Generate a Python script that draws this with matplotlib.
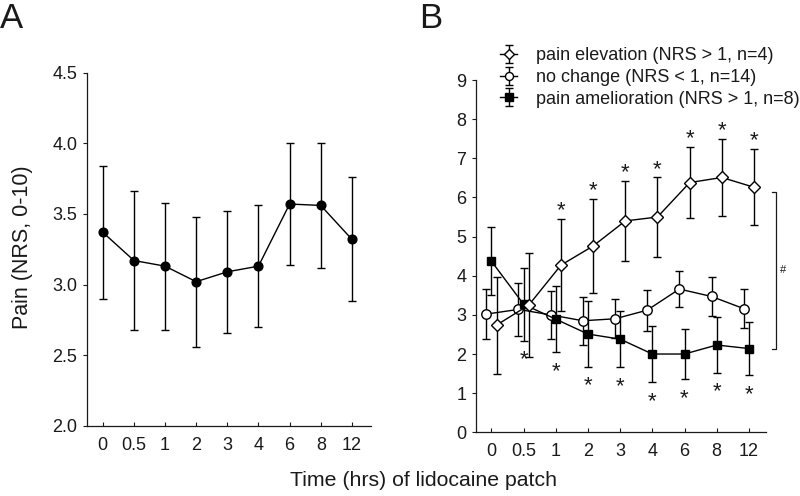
import numpy as np
import matplotlib.pyplot as plt

plt.rcParams['font.family'] = ['Liberation Sans', 'DejaVu Sans']

times = ['0', '0.5', '1', '2', '3', '4', '6', '8', '12']

# panel A: all patients
all_mean = [3.37, 3.17, 3.13, 3.02, 3.09, 3.13, 3.57, 3.56, 3.32]
all_err = [0.47, 0.49, 0.45, 0.46, 0.43, 0.43, 0.43, 0.445, 0.44]

# panel B: subgroups
elev_mean = [2.74, 3.25, 4.27, 4.76, 5.40, 5.50, 6.38, 6.51, 6.26]
elev_err = [1.24, 1.33, 1.17, 1.19, 1.03, 1.01, 0.90, 0.98, 0.97]
none_mean = [3.02, 3.14, 3.00, 2.85, 2.90, 3.12, 3.66, 3.47, 3.16]
none_err = [0.64, 0.67, 0.61, 0.61, 0.50, 0.52, 0.46, 0.51, 0.50]
amel_mean = [4.37, 3.27, 2.89, 2.51, 2.38, 2.00, 2.00, 2.23, 2.14]
amel_err = [0.87, 0.93, 0.85, 0.84, 0.72, 0.72, 0.64, 0.71, 0.68]

# significance marks (index into times)
elev_star = [2, 3, 4, 5, 6, 7, 8]
amel_star = [1, 2, 3, 4, 5, 6, 7, 8]

x = np.arange(len(times))
fs = 13
ink = '#1a1a1a'

fig = plt.figure(figsize=(8, 4.96), dpi=100)

def style(ax):
    for s in ['top', 'right']:
        ax.spines[s].set_visible(False)
    for s in ['left', 'bottom']:
        ax.spines[s].set_linewidth(0.9)
        ax.spines[s].set_color(ink)
    ax.tick_params(axis='y', direction='out', length=3, width=0.8,
                   labelsize=fs, colors=ink, pad=4)
    ax.tick_params(axis='x', direction='in', length=3, width=0.8,
                   labelsize=fs, colors=ink, pad=8)
    ax.set_xticks(x)
    ax.set_xticklabels(times)

# ---- A ----
axA = fig.add_axes([0.109, 0.1417, 0.355, 0.7117])
axA.errorbar(x, all_mean, yerr=all_err, fmt='-o', color='k', lw=1,
             elinewidth=1, capsize=3.2, capthick=1, ms=6.3, mfc='k', mec='k')
axA.set_xlim(-0.5, 8.62)
axA.set_ylim(2.0, 4.5)
axA.set_yticks([2.0, 2.5, 3.0, 3.5, 4.0, 4.5])
axA.set_yticklabels(['2.0', '2.5', '3.0', '3.5', '4.0', '4.5'])
style(axA)

# ---- B ----
axB = fig.add_axes([0.595, 0.1284, 0.362, 0.7103])
off = 0.16
h_none = axB.errorbar(x - off, none_mean, yerr=none_err, fmt='-o', color='k',
                      lw=1, elinewidth=1, capsize=3.2, capthick=1, ms=6.8,
                      mfc='white', mec='k', mew=1, zorder=2)
h_amel = axB.errorbar(x, amel_mean, yerr=amel_err, fmt='-s', color='k',
                      lw=1, elinewidth=1, capsize=3.2, capthick=1, ms=6.2,
                      mfc='k', mec='k', zorder=3)
h_elev = axB.errorbar(x + off, elev_mean, yerr=elev_err, fmt='-D', color='k',
                      lw=1, elinewidth=1, capsize=3.2, capthick=1, ms=5.8,
                      mfc='white', mec='k', mew=1, zorder=4)
axB.set_xlim(-0.48, 8.52)
axB.set_ylim(0, 9)
axB.set_yticks(range(10))
style(axB)

for i in elev_star:
    axB.text(x[i] + off, elev_mean[i] + elev_err[i] + 0.07, '*',
             ha='center', va='baseline', fontsize=16, color=ink)
for i in amel_star:
    axB.text(x[i], amel_mean[i] - amel_err[i] - 0.63, '*',
             ha='center', va='baseline', fontsize=16, color=ink)

# bracket between last points
yb0, yb1 = 2.12, 6.15
xb = 8.83
axB.plot([xb - 0.1, xb, xb, xb - 0.1], [yb0, yb0, yb1, yb1], color=ink,
         lw=0.9, clip_on=False)
axB.text(xb + 0.24, (yb0 + yb1) / 2, '#', fontsize=8, color=ink,
         ha='center', va='center')

leg = fig.legend([h_elev, h_none, h_amel],
                 ['pain elevation (NRS > 1, n=4)', 'no change (NRS < 1, n=14)',
                  'pain amelioration (NRS > 1, n=8)'],
                 loc='upper left', bbox_to_anchor=(500 / 800, 1 - 47 / 496),
                 frameon=False, fontsize=fs, handlelength=0.95,
                 handletextpad=1.05, labelspacing=0.27, borderpad=0,
                 borderaxespad=0, markerscale=0.85)
for t in leg.get_texts():
    t.set_color(ink)

fig.text(23 / 800, 0.502, 'Pain (NRS, 0-10)', rotation=90, fontsize=15.5,
         ha='center', va='center', color=ink)
fig.text(423 / 800, 1 - 481 / 496, 'Time (hrs) of lidocaine patch',
         fontsize=15.3, ha='center', va='center', color=ink)
fig.text(0.0, 0.995, 'A', fontsize=25, ha='left', va='top', color=ink)
fig.text(419 / 800, 0.995, 'B', fontsize=25, ha='left', va='top', color=ink)

fig.savefig('out.png', dpi=100)
